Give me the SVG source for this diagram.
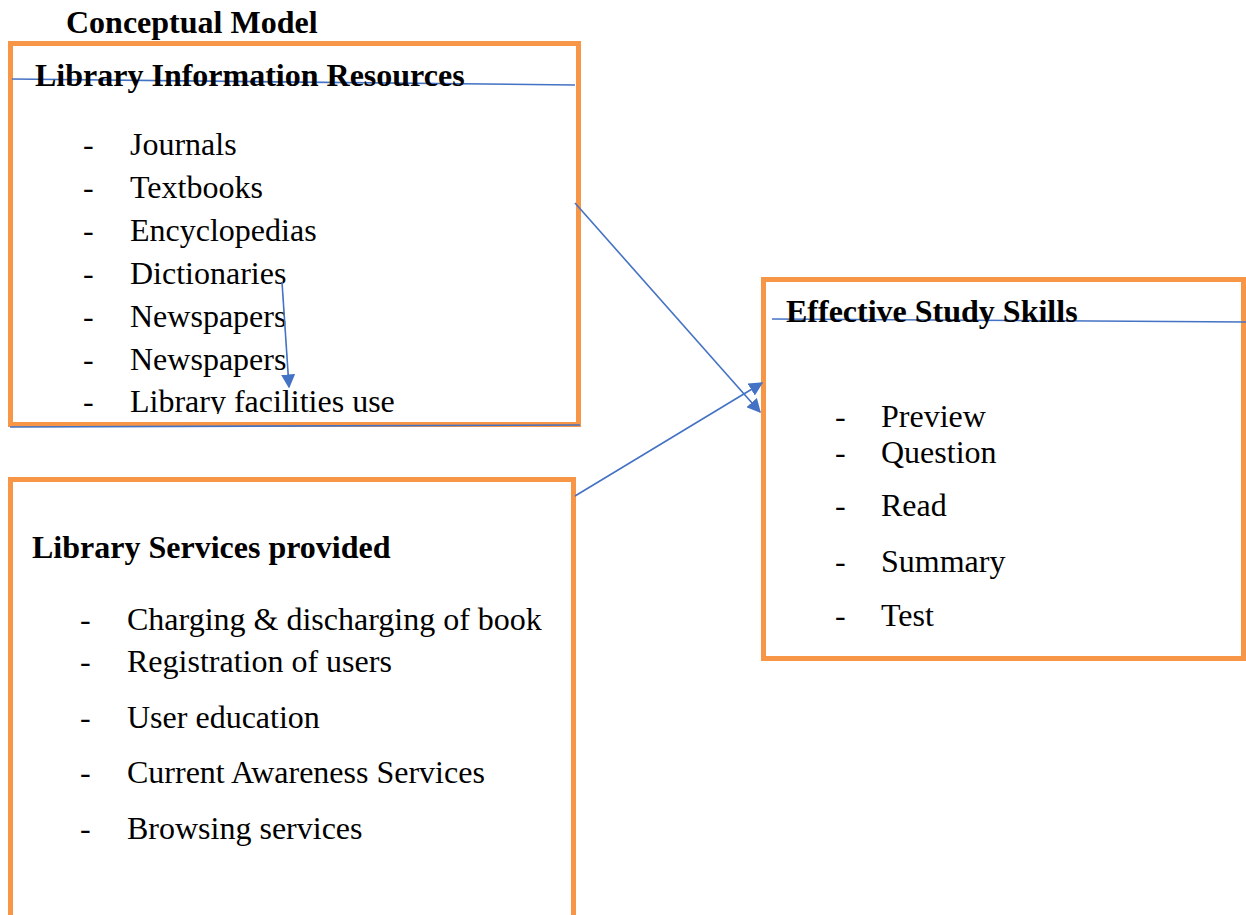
<svg xmlns="http://www.w3.org/2000/svg" width="1246" height="915" viewBox="0 0 1246 915">
  <style>
    .box { fill: none; stroke: #F79646; stroke-width: 5; }
    .rule { fill: none; stroke: #4472C4; stroke-width: 1.6; }
    .conn { fill: none; stroke: #4472C4; stroke-width: 1.6; }
    .head { font-family: "Liberation Serif", "Times New Roman", serif; font-weight: bold; font-size: 32px; fill: #000; }
    .item { font-family: "Liberation Serif", "Times New Roman", serif; font-size: 32px; fill: #000; }
  </style>
  <defs>
    <marker id="arrowBig" viewBox="0 0 10 10" refX="9" refY="5" markerWidth="14" markerHeight="14" markerUnits="userSpaceOnUse" orient="auto">
      <path d="M0,0 L10,5 L0,10 z" fill="#4472C4"/>
    </marker>
    <clipPath id="clipResources">
      <rect x="13" y="46" width="563" height="368"/>
    </clipPath>
  </defs>

  <rect width="1246" height="915" fill="#fff"/>

  <text class="head" x="66" y="33">Conceptual Model</text>

  <!-- Library information resources -->
  <g id="resources">
    <rect class="box" x="10.5" y="43.5" width="568" height="381"/>
    <line class="rule" x1="12" y1="79" x2="575" y2="85"/>
    <line class="rule" x1="10" y1="427" x2="580" y2="425"/>
    <text class="head" x="35" y="86">Library Information Resources</text>
    <g clip-path="url(#clipResources)">
      <text class="item" x="83" y="155">-</text><text class="item" x="130" y="155">Journals</text>
      <text class="item" x="83" y="198">-</text><text class="item" x="130" y="198">Textbooks</text>
      <text class="item" x="83" y="241">-</text><text class="item" x="130" y="241">Encyclopedias</text>
      <text class="item" x="83" y="284">-</text><text class="item" x="130" y="284">Dictionaries</text>
      <text class="item" x="83" y="327">-</text><text class="item" x="130" y="327">Newspapers</text>
      <text class="item" x="83" y="370">-</text><text class="item" x="130" y="370">Newspapers</text>
      <text class="item" x="83" y="412">-</text><text class="item" x="130" y="412">Library facilities use</text>
    </g>
  </g>

  <!-- Library services -->
  <g id="services">
    <rect class="box" x="10.5" y="479.5" width="563" height="450"/>
    <text class="head" x="32" y="558">Library Services provided</text>
    <text class="item" x="80" y="630">-</text><text class="item" x="127" y="630">Charging &amp; discharging of book</text>
    <text class="item" x="80" y="672">-</text><text class="item" x="127" y="672">Registration of users</text>
    <text class="item" x="80" y="728">-</text><text class="item" x="127" y="728">User education</text>
    <text class="item" x="80" y="783">-</text><text class="item" x="127" y="783">Current Awareness Services</text>
    <text class="item" x="80" y="839">-</text><text class="item" x="127" y="839">Browsing services</text>
  </g>

  <!-- Effective study skills -->
  <g id="skills">
    <rect class="box" x="763.5" y="279.5" width="480" height="379"/>
    <line class="rule" x1="772" y1="319" x2="1246" y2="322"/>
    <text class="head" x="786" y="322">Effective Study Skills</text>
    <text class="item" x="835" y="427">-</text><text class="item" x="881" y="427">Preview</text>
    <text class="item" x="835" y="463">-</text><text class="item" x="881" y="463">Question</text>
    <text class="item" x="835" y="516">-</text><text class="item" x="881" y="516">Read</text>
    <text class="item" x="835" y="572">-</text><text class="item" x="881" y="572">Summary</text>
    <text class="item" x="835" y="626">-</text><text class="item" x="881" y="626">Test</text>
  </g>

  <!-- connectors -->
  <g id="connectors">
    <line class="conn" x1="282" y1="282" x2="289" y2="387" marker-end="url(#arrowBig)"/>
    <line class="conn" x1="575" y1="203" x2="760" y2="412" marker-end="url(#arrowBig)"/>
    <line class="conn" x1="575" y1="496" x2="762" y2="383" marker-end="url(#arrowBig)"/>
  </g>
</svg>
